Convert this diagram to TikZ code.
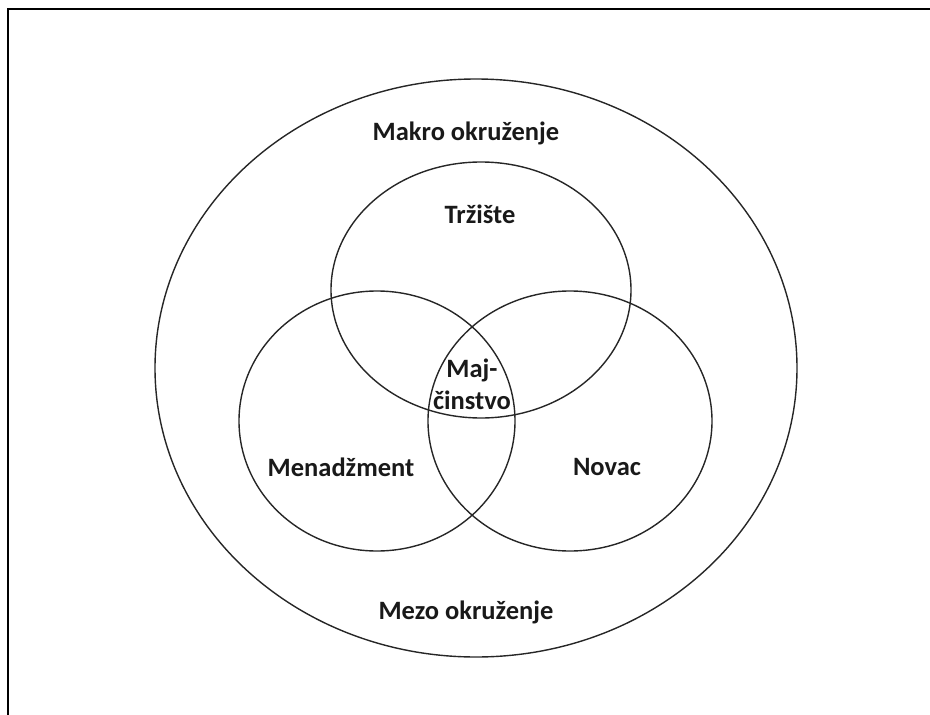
\documentclass[tikz,border=0pt]{standalone}
\usepackage{fontspec}
\setmainfont{Carlito}
\begin{document}
\begin{tikzpicture}[x=1pt,y=-1pt,
  ring/.style={draw=black!85,line width=1.4pt},
  lbl/.style={font=\bfseries\fontsize{26.5}{30}\selectfont,text=black!90,inner sep=0pt}]
\useasboundingbox (0,0) rectangle (930,715);
\coordinate (bl) at (8,716);
\coordinate (tl) at (8,9);
\coordinate (tr) at (931,9);
\draw[line width=2.6pt] (bl) -- (tl) -- (tr);
\draw[ring] (476,368) ellipse [x radius=321, y radius=289];
\draw[ring] (481,290) ellipse [x radius=150, y radius=128];
\draw[ring] (377,421) ellipse [x radius=138, y radius=130];
\draw[ring] (570,421) ellipse [x radius=142, y radius=130];
\node[lbl] (makro) at (466,133) {Makro okruženje};
\node[lbl] (trz) at (480,214) {Tržište};
\node[lbl] (maj1) at (472,370) {Maj-};
\node[lbl] (maj2) at (472,400) {činstvo};
\node[lbl] (men) at (341,467) {Menadžment};
\node[lbl] (nov) at (607,467) {Novac};
\node[lbl] (mezo) at (466,612) {Mezo okruženje};
\end{tikzpicture}
\end{document}
